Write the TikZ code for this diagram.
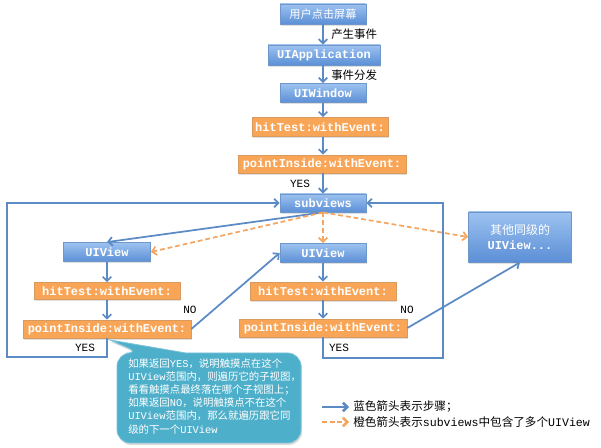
\documentclass[tikz,border=0pt]{standalone}
\usepackage{fontspec}
\setmainfont{Liberation Serif}
\setmonofont{Liberation Mono}
\newfontfamily\cjk{Noto Sans CJK SC}
\usetikzlibrary{arrows.meta,shadows}
\definecolor{bluetop}{HTML}{9DC2F0}
\definecolor{bluebot}{HTML}{5B8FD6}
\definecolor{bluebd}{HTML}{6F97C9}
\definecolor{orangefill}{HTML}{F9A557}
\definecolor{orangebd}{HTML}{D99A5E}
\definecolor{arrowblue}{HTML}{5B8AC4}
\definecolor{arroworange}{HTML}{F4A560}
\definecolor{calloutfill}{HTML}{4EAFCA}
\definecolor{calloutbd}{HTML}{7CC3D8}
\newcommand\zh[1]{{\cjk #1}}
\newcommand\boxfont{\ttfamily\bfseries\fontsize{9}{10}\selectfont}
\tikzset{
  sh/.style={drop shadow={shadow xshift=0.6pt,shadow yshift=-1.2pt,opacity=0.25}},
  bluebox/.style={sh,draw=bluebd,line width=0.6pt,top color=bluetop,bottom color=bluebot,text=white,font=\boxfont,inner sep=0pt},
  orangebox/.style={sh,draw=orangebd,line width=0.5pt,fill=orangefill,text=white,font=\boxfont,inner sep=0pt},
  barrow/.style={draw=arrowblue,line width=1.3pt,-{Straight Barb[length=3.2pt,width=6.5pt]}},
  oarrow/.style={draw=arroworange,line width=1.3pt,dash pattern=on 3.6pt off 2.2pt,-{Straight Barb[length=3.2pt,width=6.5pt]}},
  lbl/.style={font=\cjk\fontsize{8.6}{10}\selectfont,inner sep=0pt},
  yn/.style={font=\ttfamily\fontsize{8.3}{10}\selectfont,inner sep=0pt},
}
\begin{document}
\begin{tikzpicture}[x=0.75pt,y=-0.75pt]
\useasboundingbox (0,0) rectangle (601,448);
% main column
\node[bluebox,minimum width=64.5pt,minimum height=15pt] (ev) at (323,14) {\cjk\mdseries\fontsize{8.4}{10}\selectfont 用户点击屏幕};
\node[bluebox,minimum width=84pt,minimum height=15pt] (app) at (324,55) {UIApplication};
\node[bluebox,minimum width=64.5pt,minimum height=14.25pt] (win) at (323,93) {UIWindow};
\node[orangebox,minimum width=102pt,minimum height=14.25pt] (ht) at (320,127) {hitTest:withEvent:};
\node[orangebox,minimum width=126pt,minimum height=13.5pt] (pi) at (322,164) {pointInside:withEvent:};
\node[bluebox,minimum width=64.5pt,minimum height=13.5pt] (sub) at (323,203) {subviews};
% left column
\node[bluebox,minimum width=65.25pt,minimum height=14.25pt] (lv) at (107,252) {UIView};
\node[orangebox,minimum width=109.5pt,minimum height=12.75pt] (lht) at (107,291) {hitTest:withEvent:};
\node[orangebox,minimum width=126pt,minimum height=13.5pt] (lpi) at (107,329) {pointInside:withEvent:};
% right column
\node[bluebox,minimum width=64.5pt,minimum height=14.25pt] (rv) at (323,253) {UIView};
\node[orangebox,minimum width=109.5pt,minimum height=13.5pt] (rht) at (323,291) {hitTest:withEvent:};
\node[orangebox,minimum width=126pt,minimum height=13.5pt] (rpi) at (323,328) {pointInside:withEvent:};
% other
\node[bluebox,minimum width=77.25pt,minimum height=37.5pt,align=center] (other) at (520,237)
  {{\cjk\mdseries\fontsize{9}{10}\selectfont 其他同级的}\\[2pt]UIView...};
% vertical arrows
\draw[barrow] (ev.south) -- (ev.south |- app.north);
\draw[barrow] (ev.south |- app.south) -- (ev.south |- win.north);
\draw[barrow] (win.south) -- (win.south |- ht.north);
\draw[barrow] (win.south |- ht.south) -- (win.south |- pi.north);
\draw[barrow] (win.south |- pi.south) -- (win.south |- sub.north);
\draw[barrow] (lv.south) -- (lht.north);
\draw[barrow] (lht.south) -- (lpi.north);
\draw[barrow] (rv.south) -- (rht.north);
\draw[barrow] (rht.south) -- (rpi.north);
% subviews fan-out
\draw[barrow] (sub.south) -- (lv.north);
\draw[oarrow] (sub.south) -- (lv.east);
\draw[oarrow] (sub.south) -- (rv.north);
\draw[oarrow] (sub.south) -- (other.west);
% NO arrows
\draw[barrow] (lpi.east) -- (rv.west);
\draw[barrow] (rpi.east) -- (other.south);
% loops
\coordinate (lc) at (7,357);
\coordinate (rc) at (443,358);
\draw[barrow] (lpi.south) -- (lpi.south |- lc) -- (lc) -- (lc |- sub.west) -- (sub.west);
\draw[barrow] (rpi.south) -- (rpi.south |- rc) -- (rc) -- (rc |- sub.east) -- (sub.east);
% labels
\node[lbl,anchor=west] (l1) at (331,34) {产生事件};
\node[lbl,anchor=west] (l2) at (331,75) {事件分发};
\node[yn] (y0) at (300,184) {YES};
\node[yn] (n1) at (190,310) {NO};
\node[yn] (y1) at (85,348) {YES};
\node[yn] (n2) at (407,310) {NO};
\node[yn] (y2) at (339,348) {YES};
% callout
\fill[calloutfill,draw=calloutbd,line width=0.6pt,drop shadow={shadow xshift=0.8pt,shadow yshift=-1.5pt,opacity=0.3}]
  [rounded corners=10pt] (117,400) |- (140,353) [sharp corners] -- (110,340) -- (186,353)
  [rounded corners=10pt] -| (301,443) -| cycle;
\node[anchor=north west,inner sep=0pt,text=white,align=left,font=\fontsize{7.8}{9.9}\selectfont] (ct) at (128,358)
  {\zh{如果返回}\texttt{YES}\zh{，说明触摸点在这个}\\
   \texttt{UIView}\zh{范围内，则遍历它的子视图，}\\
   \zh{看看触摸点最终落在哪个子视图上；}\\
   \zh{如果返回}\texttt{NO}\zh{，说明触摸点不在这个}\\
   \texttt{UIView}\zh{范围内，那么就遍历跟它同}\\
   \zh{级的下一个}\texttt{UIView}};
% legend
\coordinate (la1) at (322,407);
\coordinate (la2) at (349,407);
\coordinate (lb1) at (322,422);
\coordinate (lb2) at (349,422);
\draw[barrow,line width=2pt] (la1) -- (la2);
\draw[oarrow,line width=2pt] (lb1) -- (lb2);
\node[anchor=west,inner sep=0pt,font=\fontsize{8.7}{10}\selectfont] (t1) at (353,407) {\zh{蓝色箭头表示步骤；}};
\node[anchor=west,inner sep=0pt,font=\fontsize{8.7}{10}\selectfont] (t2) at (353,422) {\zh{橙色箭头表示}\texttt{subviews}\zh{中包含了多个}\texttt{UIView}};
\end{tikzpicture}
\end{document}
